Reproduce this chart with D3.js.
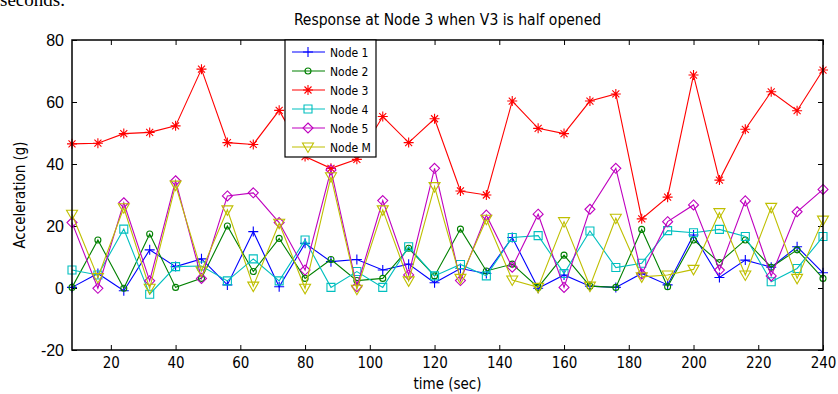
<!DOCTYPE html>
<html>
<head>
<meta charset="utf-8">
<script src="https://cdn.jsdelivr.net/npm/d3@7"></script>
<style>
	body { margin: 0; background: #fff; }
	svg { display: block; }
</style>
</head>
<body>
<div id="box"></div>
<script>
// time axis, one sample every 8 sec
const times = d3.range(8, 241, 8);

const node1 = [0.2, 4.7, -0.9, 12.3, 6.9, 9.4, 1.0, 18.2, 0.4, 14.4, 8.5, 9.2, 5.8, 7.7, 1.7, 6.3, 4.7, 16.3, -0.1, 4.2, 0.6, 0.2, 4.7, 1.0, 17.1, 3.4, 9.0, 6.7, 13.3, 4.9];
const node2 = [0.2, 15.5, -0.1, 17.4, 0.2, 3.1, 20, 5.3, 16, 3.1, 9.2, 2.4, 3.1, 12.8, 3.9, 19, 5.5, 7.7, 0.2, 10.6, 0.6, 0.2, 18.9, 0.4, 15.5, 8.2, 15.5, 6.7, 12.3, 3.1];
const node3 = [46.5, 46.7, 49.8, 50.2, 52.3, 70.6, 46.9, 46.3, 57.3, 42.4, 38.6, 41.5, 55.3, 46.9, 54.6, 31.3, 30, 60.3, 51.5, 49.8, 60.3, 62.6, 22.3, 29.3, 68.7, 34.8, 51.2, 63.3, 57.2, 70.3];
const node4 = [5.8, 4.2, 19, -2.0, 6.9, 7.1, 2.3, 9.4, 2.3, 15.5, 0.2, 5.3, 0.2, 13.3, 3.9, 7.6, 3.9, 16.3, 16.9, 4.7, 18.4, 6.6, 8.0, 18.5, 17.8, 18.9, 16.6, 2.0, 6.3, 16.6];
const node5 = [21.1, -0.1, 27.5, 2.3, 34.6, 3.1, 29.7, 30.7, 21.1, 5.8, 38.1, 0.4, 28.2, 4.2, 38.6, 2.4, 23.5, 6.7, 23.8, 0.2, 25.4, 38.6, 4.5, 21.4, 26.8, 5.8, 28.1, 3.9, 24.6, 31.8];
const nodeM = [23.8, 3.4, 25.9, -0.1, 33.2, 5.5, 25.2, 0.6, 20.9, -0.1, 35.9, -0.4, 25.2, 2.3, 32.7, 3.1, 22.2, 2.6, 0.2, 21.4, 0.6, 22.5, 3.6, 4.2, 6.0, 24.3, 4.2, 26.0, 3.1, 21.9];

const seriesNames = ['Node 1', 'Node 2', 'Node 3', 'Node 4', 'Node 5', 'Node M'];
const seriesColors = ['#0000ff', '#008000', '#ff0000', '#00bfbf', '#bf00bf', '#bfbf00'];
const seriesMarkers = ['plus', 'circle', 'star', 'square', 'diamond', 'triangle'];
const seriesValues = [node1, node2, node3, node4, node5, nodeM];

const xTicks = d3.range(20, 241, 20);
const yTicks = [-20, 0, 20, 40, 60, 80];

const title = 'Response at Node 3 when V3 is half opened';
const xLabel = 'time (sec)';
const yLabel = 'Acceleration (g)';

const narrow = '"DejaVu Sans Condensed", "Liberation Sans Narrow", sans-serif';

const width = 838;
const height = 394;

const marginLeft = 72;
const marginRight = 15;
const marginTop = 40;
const marginBottom = 44;

const xScale = d3.scaleLinear([8, 240], [marginLeft, width - marginRight]);
const yScale = d3.scaleLinear([-20, 80], [height - marginBottom, marginTop]);

function marker(type) {
	switch (type) {
	case 'plus':
		return 'M-5,0H5M0,-5V5';
	case 'circle':
		return 'M3,0A3,3 0 1,1 -3,0A3,3 0 1,1 3,0Z';
	case 'star':
		return 'M-5,0H5M0,-5V5M-3.5,-3.5L3.5,3.5M-3.5,3.5L3.5,-3.5';
	case 'square':
		return 'M-4,-4H4V4H-4Z';
	case 'diamond':
		return 'M0,-5L5,0L0,5L-5,0Z';
	case 'triangle':
		return 'M-5.5,-4L5.5,-4L0,5.5Z';
	}
	return '';
}

const svg = d3.select('#box').append('svg')
	.attr('width', width)
	.attr('height', height)
	.attr('viewBox', [0, 0, width, height]);

// bit of page text above the figure, cut off by the crop
svg.append('text')
	.attr('x', 0)
	.attr('y', 6)
	.attr('font-family', '"Liberation Serif", serif')
	.attr('font-size', 19)
	.text('seconds.');

svg.append('text')
	.attr('x', (marginLeft + width - marginRight) / 2)
	.attr('y', 25)
	.attr('text-anchor', 'middle')
	.attr('font-family', narrow)
	.attr('font-size', 15.5)
	.text(title);

const xAxis = d3.axisBottom(xScale).tickValues(xTicks).tickSize(-5).tickPadding(7).tickSizeOuter(0).tickFormat(d => String(d));
const xAxisTop = d3.axisTop(xScale).tickValues(xTicks).tickSize(-5).tickFormat('').tickSizeOuter(0);
const yAxis = d3.axisLeft(yScale).tickValues(yTicks).tickSize(-5).tickPadding(8).tickSizeOuter(0).tickFormat(d => String(d));
const yAxisRight = d3.axisRight(yScale).tickValues(yTicks).tickSize(-5).tickFormat('').tickSizeOuter(0);

svg.append('g')
	.attr('transform', `translate(0,${height - marginBottom})`)
	.call(xAxis)
	.call(g => g.selectAll('text').attr('font-family', narrow).attr('font-size', 15).attr('fill', '#000'));

svg.append('g')
	.attr('transform', `translate(0,${marginTop})`)
	.call(xAxisTop);

svg.append('g')
	.attr('transform', `translate(${marginLeft},0)`)
	.call(yAxis)
	.call(g => g.selectAll('text').attr('font-family', '"Liberation Sans", Arial, sans-serif').attr('font-size', 16).attr('fill', '#000'));

svg.append('g')
	.attr('transform', `translate(${width - marginRight},0)`)
	.call(yAxisRight);

svg.selectAll('.domain').remove();
svg.selectAll('.tick line').attr('stroke', '#000');

svg.append('text')
	.attr('x', (marginLeft + width - marginRight) / 2)
	.attr('y', 389)
	.attr('text-anchor', 'middle')
	.attr('font-family', narrow)
	.attr('font-size', 15)
	.text(xLabel);

svg.append('text')
	.attr('transform', `translate(25,${(marginTop + height - marginBottom) / 2}) rotate(-90)`)
	.attr('text-anchor', 'middle')
	.attr('font-family', narrow)
	.attr('font-size', 15)
	.text(yLabel);

const line = d3.line()
	.x((d, i) => xScale(times[i]))
	.y(d => yScale(d));

seriesValues.forEach((vals, k) => {
	const g = svg.append('g');
	g.append('path')
		.attr('fill', 'none')
		.attr('stroke', seriesColors[k])
		.attr('stroke-width', 1.1)
		.attr('d', line(vals));
	g.selectAll('path.mk')
		.data(vals)
		.join('path')
		.attr('class', 'mk')
		.attr('transform', (d, i) => `translate(${xScale(times[i])},${yScale(d)})`)
		.attr('d', marker(seriesMarkers[k]))
		.attr('fill', 'none')
		.attr('stroke', seriesColors[k])
		.attr('stroke-width', 1.1);
});

// box round the plot
svg.append('rect')
	.attr('x', marginLeft)
	.attr('y', marginTop)
	.attr('width', width - marginRight - marginLeft)
	.attr('height', height - marginBottom - marginTop)
	.attr('fill', 'none')
	.attr('stroke', '#000')
	.attr('stroke-width', 1.5);

// legend
const lx = 285;
const ly = 40;
const legend = svg.append('g');
legend.append('rect')
	.attr('x', lx)
	.attr('y', ly)
	.attr('width', 91)
	.attr('height', 117)
	.attr('fill', '#fff')
	.attr('stroke', '#000')
	.attr('stroke-width', 1.2);

seriesNames.forEach((name, k) => {
	const y = ly + 12 + k * 19;
	legend.append('line')
		.attr('x1', lx + 7)
		.attr('x2', lx + 40)
		.attr('y1', y)
		.attr('y2', y)
		.attr('stroke', seriesColors[k])
		.attr('stroke-width', 1.1);
	legend.append('path')
		.attr('transform', `translate(${lx + 23},${y})`)
		.attr('d', marker(seriesMarkers[k]))
		.attr('fill', 'none')
		.attr('stroke', seriesColors[k])
		.attr('stroke-width', 1.1);
	legend.append('text')
		.attr('x', lx + 45)
		.attr('y', y + 4.5)
		.attr('font-family', narrow)
		.attr('font-size', 12)
		.text(name);
});
</script>
</body>
</html>
